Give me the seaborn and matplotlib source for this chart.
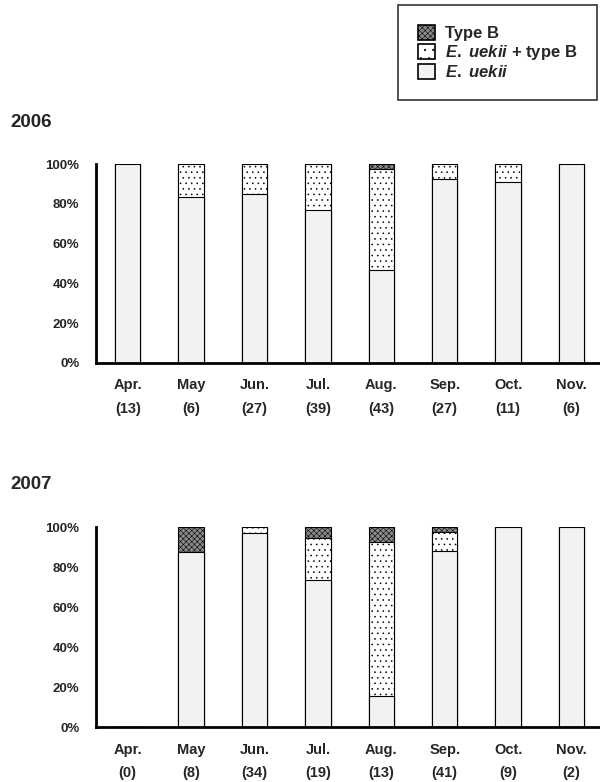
import numpy as np
import pandas as pd
import matplotlib
matplotlib.use('Agg')
import matplotlib.pyplot as plt
import seaborn as sns
from matplotlib.patches import Patch

sns.set_theme(style='white')
plt.rcParams['font.family'] = ['Liberation Sans', 'DejaVu Sans']
plt.rcParams['mathtext.fontset'] = 'custom'
plt.rcParams['mathtext.it'] = 'Liberation Sans:italic:bold'
plt.rcParams['mathtext.rm'] = 'Liberation Sans:bold'
plt.rcParams['hatch.linewidth'] = 0.4

months = ['Apr.', 'May', 'Jun.', 'Jul.', 'Aug.', 'Sep.', 'Oct.', 'Nov.']

# 2006 (percent of isolates)
n_2006 = [13, 6, 27, 39, 43, 27, 11, 6]
uekii_2006 = [100, 83.3, 85.2, 76.9, 46.5, 92.6, 90.9, 100]
mixed_2006 = [0, 16.7, 14.8, 23.1, 51.2, 7.4, 9.1, 0]
typeb_2006 = [0, 0, 0, 0, 2.3, 0, 0, 0]

# 2007
n_2007 = [0, 8, 34, 19, 13, 41, 9, 2]
uekii_2007 = [0, 87.5, 97.1, 73.7, 15.4, 87.8, 100, 100]
mixed_2007 = [0, 0, 2.9, 21.0, 76.9, 9.8, 0, 0]
typeb_2007 = [0, 12.5, 0, 5.3, 7.7, 2.4, 0, 0]

c_uekii = '#f2f2f2'
c_mixed = 'white'
c_typeb = '#8a8a8a'
h_mixed = '...'
h_typeb = 'xxxxxx'


def draw(ax, n, uekii, mixed, typeb):
    df = pd.DataFrame({
        'month': [f'{m}\n({k})' for m, k in zip(months, n)],
        'uekii': np.array(uekii) / 100,
        'mixed': (np.array(uekii) + np.array(mixed)) / 100,
        'total': (np.array(uekii) + np.array(mixed) + np.array(typeb)) / 100,
    })
    # stacked bars drawn back to front
    sns.barplot(data=df, x='month', y='total', color=c_typeb, saturation=1,
                width=0.4, edgecolor='black', linewidth=0.8, hatch=h_typeb, ax=ax)
    sns.barplot(data=df, x='month', y='mixed', color=c_mixed, saturation=1,
                width=0.4, edgecolor='black', linewidth=0.8, hatch=h_mixed, ax=ax)
    sns.barplot(data=df, x='month', y='uekii', color=c_uekii, saturation=1,
                width=0.4, edgecolor='black', linewidth=0.8, ax=ax)
    ax.set_ylim(0, 1)
    ax.set_xlim(-0.5, 7.45)
    ax.set_yticks([0, 0.2, 0.4, 0.6, 0.8, 1.0])
    ax.set_yticklabels(['0%', '20%', '40%', '60%', '80%', '100%'],
                       fontweight='bold', fontsize=9.5)
    ax.set_xticks(range(len(months)))
    ax.set_xticklabels(df['month'], fontweight='bold', fontsize=10.5, linespacing=1.9)
    ax.tick_params(axis='both', length=0)
    ax.tick_params(axis='y', pad=12)
    ax.tick_params(axis='x', pad=11)
    ax.set_xlabel('')
    ax.set_ylabel('')
    for s in ['top', 'right']:
        ax.spines[s].set_visible(False)
    for s in ['left', 'bottom']:
        ax.spines[s].set_color('black')
        ax.spines[s].set_linewidth(2)


fig = plt.figure(figsize=(6, 7.82), dpi=100)
ax1 = fig.add_axes([0.16, 0.536, 0.84, 0.254])
ax2 = fig.add_axes([0.16, 0.070, 0.84, 0.256])
draw(ax1, n_2006, uekii_2006, mixed_2006, typeb_2006)
draw(ax2, n_2007, uekii_2007, mixed_2007, typeb_2007)

fig.text(0.017, 0.843, '2006', fontsize=13.5, fontweight='bold', va='center')
fig.text(0.017, 0.381, '2007', fontsize=13.5, fontweight='bold', va='center')

handles = [
    Patch(facecolor=c_typeb, edgecolor='black', hatch=h_typeb, linewidth=1.2),
    Patch(facecolor=c_mixed, edgecolor='black', hatch='..', linewidth=1.2),
    Patch(facecolor=c_uekii, edgecolor='black', linewidth=1.2),
]
labels = ['Type B', r'$\mathit{E.\ uekii}$ + type B', r'$\mathit{E.\ uekii}$']
leg = fig.legend(handles, labels, loc='upper right', bbox_to_anchor=(0.995, 0.994),
                 frameon=True, fancybox=False, edgecolor='black',
                 prop={'weight': 'bold', 'size': 12},
                 handlelength=1.0, handleheight=1.0, handletextpad=0.6,
                 labelspacing=0.12, borderpad=1.2, borderaxespad=0)
leg.get_frame().set_linewidth(1.2)

fig.savefig('out.png', dpi=100)
